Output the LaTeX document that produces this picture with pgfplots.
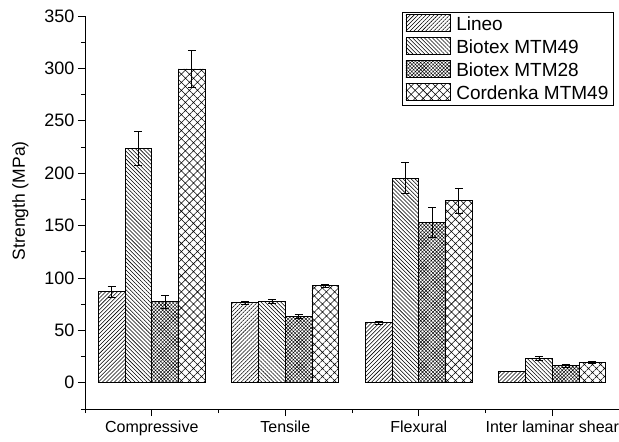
\documentclass[border=0pt]{standalone}
\usepackage{fontspec}
\setmainfont{Liberation Sans}
\usepackage{pgfplots}
\pgfplotsset{compat=1.18}
\usetikzlibrary{patterns.meta}
\begin{document}
\begin{tikzpicture}
\begin{axis}[
  name=ax,
  scale only axis,
  width=534pt, height=393pt,
  ybar=0pt, bar width=26.7pt,
  xmin=-0.5, xmax=3.5, ymin=-25, ymax=350,
  axis lines*=left,
  axis line style={line width=1pt},
  xtick={0,1,2,3},
  xticklabels={Compressive,Tensile,Flexural,Inter laminar shear},
  minor xtick={-0.5,0.5,1.5,2.5},
  ytick={0,50,...,350},
  minor ytick={-25,25,...,325},
  tick align=outside,
  major tick length=7pt, minor tick length=4pt,
  tick style={line width=0.8pt, black},
  /pgf/number format/assume math mode=true,
  yticklabel style={font=\fontsize{18}{20}\selectfont},
  xticklabel style={font=\fontsize{16}{20}\selectfont, yshift=-1pt},
  ylabel={Strength (MPa)},
  ylabel shift=9pt,
  ylabel style={font=\fontsize{17.5}{20}\selectfont, at={(ticklabel cs:0.53)}},
  legend style={at={(rel axis cs:0.99,1.01)}, anchor=north east,
    font=\fontsize{19}{21}\selectfont, draw=black, line width=0.6pt,
    inner xsep=3pt, inner ysep=2pt, row sep=3.5pt, cells={anchor=west}},
  legend image code/.code={\draw[#1, line width=0.8pt] (0pt,-7.5pt) rectangle (44pt,9.5pt);\path (48pt,0pt);},
  error bars/y dir=both, error bars/y explicit,
  error bars/error bar style={line width=0.7pt, black},
  error bars/error mark options={rotate=90, mark size=4pt, line width=0.7pt, black},
]
\addplot[draw=black, line width=0.8pt, pattern={Lines[angle=45,distance=2.8pt,line width=0.55pt]}]
  coordinates {(0,87) +- (0,5) (1,76.3) +- (0,1) (2,57.3) +- (0,1.5) (3,10.8) +- (0,0)};
\addplot[draw=black, line width=0.8pt, pattern={Lines[angle=-45,distance=2.8pt,line width=0.55pt]}]
  coordinates {(0,223.6) +- (0,16) (1,77.6) +- (0,2) (2,195.3) +- (0,15) (3,23.4) +- (0,1.8)};
\addplot[draw=black, line width=0.8pt, pattern={Hatch[angle=45,distance=2.5pt,line width=0.45pt]}]
  coordinates {(0,77.3) +- (0,6) (1,63.3) +- (0,2) (2,153) +- (0,14) (3,16.2) +- (0,1)};
\addplot[draw=black, line width=0.8pt, pattern={Hatch[angle=45,distance=5.7pt,line width=0.55pt]}]
  coordinates {(0,299.5) +- (0,18) (1,92.5) +- (0,1.5) (2,174) +- (0,12) (3,19.8) +- (0,1)};
\legend{Lineo, Biotex MTM49, Biotex MTM28, Cordenka MTM49}
\end{axis}
\pgfresetboundingbox
\path ([xshift=-85pt,yshift=-32pt]ax.south west) rectangle ([yshift=16pt]ax.north east);
\end{tikzpicture}
\end{document}
